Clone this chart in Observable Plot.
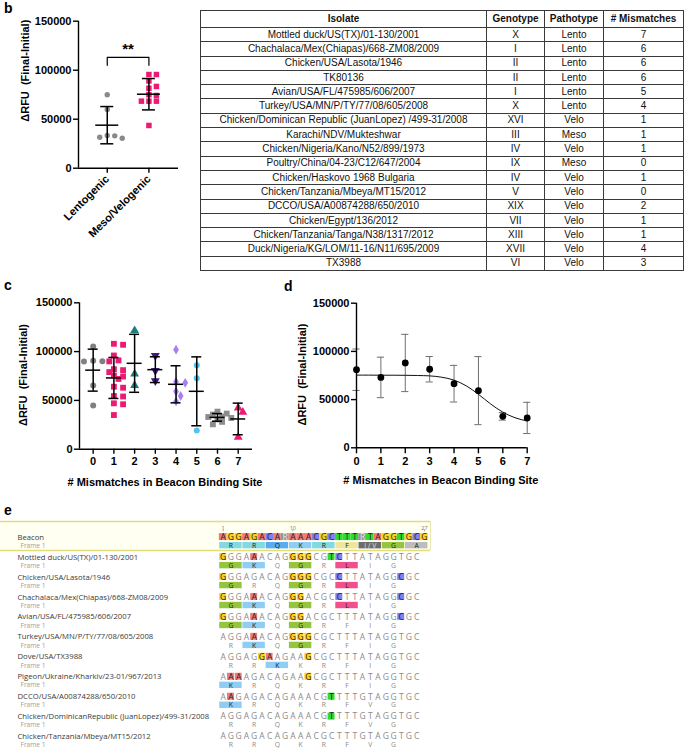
<!DOCTYPE html>
<html>
<head>
<meta charset="utf-8">
<script src="https://cdn.jsdelivr.net/npm/d3@7"></script>
<script src="https://cdn.jsdelivr.net/npm/@observablehq/plot@0.6"></script>
<style>
html,body{margin:0;padding:0;background:#fff;}
#root{position:relative;width:685px;height:750px;overflow:hidden;background:#fff;}
.lbl{position:absolute;font:bold 14px "Liberation Sans",Arial,sans-serif;line-height:16px;color:#000;}
#tbl{position:absolute;left:200px;top:10px;}
table{border-collapse:collapse;table-layout:fixed;font:10px "Liberation Sans",Arial,sans-serif;color:#111;}
td,th{border:1px solid #3a3a3a;padding:0;text-align:center;white-space:nowrap;overflow:hidden;line-height:12px;}
th{height:16px;font-weight:bold;}
td{height:13.3px;}
</style>
</head>
<body>
<div id="root"></div>
<script>
// ================= DATA =================
// Panel b (dot plot by pathotype)
const pathoGroups = ["Lentogenic", "Meso/Velogenic"];
const lentoValues = [75000, 60000, 30600, 33000, 31600, 33400];
const mesoVeloValues = [95600, 95600, 89000, 83400, 81600, 75000, 74200, 68400, 68400, 68400, 43600];
const pathoMeans = [43900, 75500];
const pathoSDs = [19000, 16000];

// Panel b (table)
const tableHeader = ["Isolate", "Genotype", "Pathotype", "# Mismatches"];
const isolates = [
  "Mottled duck/US(TX)/01-130/2001",
  "Chachalaca/Mex(Chiapas)/668-ZM08/2009",
  "Chicken/USA/Lasota/1946",
  "TK80136",
  "Avian/USA/FL/475985/606/2007",
  "Turkey/USA/MN/P/TY/77/08/605/2008",
  "Chicken/Dominican Republic (JuanLopez) /499-31/2008",
  "Karachi/NDV/Mukteshwar",
  "Chicken/Nigeria/Kano/N52/899/1973",
  "Poultry/China/04-23/C12/647/2004",
  "Chicken/Haskovo 1968 Bulgaria",
  "Chicken/Tanzania/Mbeya/MT15/2012",
  "DCCO/USA/A00874288/650/2010",
  "Chicken/Egypt/136/2012",
  "Chicken/Tanzania/Tanga/N38/1317/2012",
  "Duck/Nigeria/KG/LOM/11-16/N11/695/2009",
  "TX3988"
];
const genotypes = ["X","I","II","II","I","X","XVI","III","IV","IX","IV","V","XIX","VII","XIII","XVII","VI"];
const pathotypes = ["Lento","Lento","Lento","Lento","Lento","Lento","Velo","Meso","Velo","Meso","Velo","Velo","Velo","Velo","Velo","Velo","Velo"];
const mismatchCounts = [7,6,6,6,5,4,1,1,1,0,1,0,2,1,1,4,3];

// Panel c / d (by number of mismatches)
const mismatchGroups = [0,1,2,3,4,5,6,7];
const replicates = [
  [105200, 90600, 89900, 90000, 65300, 44800],
  [108000,107000,96000,91000,90000,82000,81000,79000,75500,74500,72000,64000,63000,54500,54000,47000,46000,35000],
  [121600, 77200, 65300],
  [96000, 80600, 70000],
  [102000, 69000, 68000, 59000, 54500, 49000],
  [86100, 72800, 19100],
  [38500, 36500, 35500, 33500, 33000, 32000, 30500, 28000, 25500],
  [42400, 37900, 12300]
];
const groupMeans = [81000, 73000, 88000, 81500, 66500, 59300, 32600, 31000];
const groupSDs   = [21500, 21000, 29700, 13200, 19000, 35300, 3900, 16200];
const groupColors = ["#808080","#ec1a73","#1c7c80","#40197a","#a97ef0","#55c2ee","#8c8c8c","#ec1a73"];
const groupSymbolNames = ["circle","square","triangle","triangleDown","diamond","circle","square","triangle"];

// Panel d fitted curve
const fitX = [0, 0.5, 1, 1.5, 2, 2.5, 3, 3.5, 4, 4.5, 5, 5.5, 6, 6.5, 7];
const fitY = [75400, 75400, 75300, 75300, 75200, 75000, 74600, 73200, 70200, 64300, 55500, 45500, 37000, 31200, 27800];

const yTicks = [0, 50000, 100000, 150000];
const xTicks = [0, 1, 2, 3, 4, 5, 6, 7];

// Panel e (alignment)
const beaconNt = "AGGAGACARAAACGCTTTRTAGGTGCG";
const beaconAA = ["R","R","Q","K","R","F","I / V","G","A"];
const seqNames = [
  "Mottled duck/US(TX)/01-130/2001",
  "Chicken/USA/Lasota/1946",
  "Chachalaca/Mex(Chiapas)/668-ZM08/2009",
  "Avian/USA/FL/475985/606/2007",
  "Turkey/USA/MN/P/TY/77/08/605/2008",
  "Dove/USA/TX3988",
  "Pigeon/Ukraine/Kharkiv/23-01/967/2013",
  "DCCO/USA/A00874288/650/2010",
  "Chicken/DominicanRepublic (JuanLopez)/499-31/2008",
  "Chicken/Tanzania/Mbeya/MT15/2012"
];
const seqNt = [
  "GGGAAACAGGGGCGTCTTATAGGTGC",
  "GGGAGACAGGGGCGCCTTATAGGCGC",
  "GGGAAACAGGGACGCCTTATAGGCGC",
  "GGGAAACAGGGACGCTTTATAGGCGC",
  "AGGAAACAGGGGCGCTTTATAGGTGC",
  "AGGAGGAAGAAGCGCTTTATAGGTGC",
  "AAAAGACAGAAGCGCTTTATAGGTGC",
  "AAGAGACAGAAACGTTTTGTAGGTGC",
  "AGGAGACAGAAACGTTTTGTAGGTGC",
  "AGGAGACAGAAACGCTTTGTAGGTGC"
];
const seqAA = ["GKQGRLIG","GRQGRLIG","GKQGRLIG","GKQGRFIG","RKQGRFIG","RRKKRFIG","KRQKRFIG","KRQKRFVG","RRQKRFVG","RRQKRFVG"];
const positionMarks = [1, 10, 27];
const ntColors = {A:"#f27a76", G:"#ffd21a", C:"#7f7ff0", T:"#2edc2e", R:"#959595"};
const aaColors = {R:"#84d8e0", Q:"#5aabef", K:"#8fcdf4", F:"#efe59c", "I / V":"#6c6c6c", G:"#95c43f", A:"#bdbdbd", L:"#f2508b"};

// ================= HELPERS =================
const root = document.getElementById("root");
function place(el, left, top) {
  el.style.position = "absolute"; el.style.left = left + "px"; el.style.top = top + "px";
  root.appendChild(el);
}
function label(txt, left, top) {
  const d = document.createElement("div"); d.className = "lbl"; d.textContent = txt;
  d.style.left = left + "px"; d.style.top = top + "px"; root.appendChild(d);
}
const triangleDown = {
  draw(context, size) {
    const y = -Math.sqrt(size / (Math.sqrt(3) * 3));
    context.moveTo(0, -y * 2);
    context.lineTo(-Math.sqrt(3) * y, y);
    context.lineTo(Math.sqrt(3) * y, y);
    context.closePath();
  }
};
const symbolOf = n => n === "triangleDown" ? triangleDown : n;
// simple beeswarm-like spreading (pixel offsets)
function dodge(values, toPx, diam, step) {
  const order = values.map((v, i) => i).sort((a, b) => values[b] - values[a]);
  const placed = []; const off = new Array(values.length).fill(0);
  for (const i of order) {
    const y = toPx(values[i]);
    for (let k = 0; k < 60; k++) {
      const o = k === 0 ? 0 : (k % 2 ? 1 : -1) * Math.ceil(k / 2) * step;
      if (placed.every(p => Math.hypot(p.x - o, p.y - y) >= diam)) { placed.push({x: o, y}); off[i] = o; break; }
    }
  }
  return off;
}
const graphStyle = {fontFamily: '"Liberation Sans", Arial, sans-serif', fontSize: "11px", fontWeight: "bold",
  background: "transparent", overflow: "visible", color: "#000"};
const yLabel = "\u0394RFU\u00a0 (Final-Initial)";
const xLabel = "# Mismatches in Beacon Binding Site";

// ================= PANEL b (dot plot) =================
{
  const W = 200, H = 250, ML = 78, MR = 22, MT = 20.7, MB = 82.3;
  const xDom = [-0.69, 1.71];
  const pxX = (W - ML - MR) / (xDom[1] - xDom[0]);
  const yPx = v => (H - MB) - v * (H - MB - MT) / 150000;
  const groups = [lentoValues, mesoVeloValues];
  const marks = [
    Plot.ruleX([xDom[0]], {stroke: "#000", strokeWidth: 1.4}),
    Plot.ruleY([0], {stroke: "#000", strokeWidth: 1.4}),
    Plot.axisY({ticks: yTicks, tickFormat: "d", tickSize: 5, tickPadding: 2, fontSize: 11, fontWeight: "bold", strokeWidth: 1.4, label: null}),
    Plot.axisX({ticks: [0, 1], tickFormat: i => pathoGroups[i], tickRotate: -45, tickSize: 5, tickPadding: 4, fontSize: 11, fontWeight: "bold", strokeWidth: 1.4, label: null})
  ];
  groups.forEach((vals, g) => {
    const off = dodge(vals, yPx, 5.6, 7.5);
    marks.push(Plot.dot(vals.map((v, i) => ({x: g + off[i] / pxX, y: v})), {
      x: "x", y: "y", r: g === 0 ? 2.7 : 3.1, symbol: g === 0 ? "circle" : "square",
      fill: g === 0 ? "#8a8a8a" : "#ec1a73", stroke: "none"}));
  });
  const stats = [0, 1].map(g => ({g, m: pathoMeans[g], s: pathoSDs[g]}));
  marks.push(
    Plot.ruleX(stats, {x: "g", y1: d => d.m - d.s, y2: d => d.m + d.s, stroke: "#000", strokeWidth: 1.5}),
    Plot.ruleY(stats, {y: "m", x1: d => d.g - 11.5 / pxX, x2: d => d.g + 11.5 / pxX, stroke: "#000", strokeWidth: 1.5}),
    Plot.ruleY(stats, {y: d => d.m + d.s, x1: d => d.g - 6.5 / pxX, x2: d => d.g + 6.5 / pxX, stroke: "#000", strokeWidth: 1.5}),
    Plot.ruleY(stats, {y: d => d.m - d.s, x1: d => d.g - 6.5 / pxX, x2: d => d.g + 6.5 / pxX, stroke: "#000", strokeWidth: 1.5}),
    Plot.line([{x: 0, y: 105000}, {x: 0, y: 113000}, {x: 1, y: 113000}, {x: 1, y: 105000}], {x: "x", y: "y", stroke: "#000", strokeWidth: 1.2}),
    Plot.text([{x: 0.5, y: 121500, t: "**"}], {x: "x", y: "y", text: "t", fontSize: 15, fontWeight: "bold", textAnchor: "middle"}),
    Plot.text([yLabel], {text: d => d, frameAnchor: "left", textAnchor: "middle", lineAnchor: "middle", rotate: -90, dx: -53, dy: -24, fontSize: 11, fontWeight: "bold"})
  );
  const svg = Plot.plot({width: W, height: H, marginLeft: ML, marginRight: MR, marginTop: MT, marginBottom: MB,
    style: graphStyle, x: {type: "linear", domain: xDom, axis: null, label: null},
    y: {type: "linear", domain: [0, 150000], axis: null, label: null}, marks});
  place(svg, 0, 0);
}

// ================= PANEL b (table) =================
{
  const wrap = document.createElement("div"); wrap.id = "tbl";
  const t = document.createElement("table");
  const widths = [286, 58, 59, 80];
  const cg = document.createElement("colgroup");
  widths.forEach(w => { const c = document.createElement("col"); c.style.width = w + "px"; cg.appendChild(c); });
  t.appendChild(cg);
  const hr = document.createElement("tr");
  tableHeader.forEach(h => { const th = document.createElement("th"); th.textContent = h; hr.appendChild(th); });
  t.appendChild(hr);
  isolates.forEach((iso, i) => {
    const tr = document.createElement("tr");
    [iso, genotypes[i], pathotypes[i], String(mismatchCounts[i])].forEach(v => {
      const td = document.createElement("td"); td.textContent = v; tr.appendChild(td);
    });
    t.appendChild(tr);
  });
  wrap.appendChild(t); root.appendChild(wrap);
}

// ================= PANEL c =================
{
  const W = 260, H = 230, ML = 79, MR = 8, MT = 22.3, MB = 61.3;
  const xDom = [-0.66, 7.69];
  const pxX = (W - ML - MR) / (xDom[1] - xDom[0]);
  const yPx = v => (H - MB) - v * (H - MB - MT) / 150000;
  const marks = [
    Plot.ruleX([xDom[0]], {stroke: "#000", strokeWidth: 1.4}),
    Plot.ruleY([0], {stroke: "#000", strokeWidth: 1.4}),
    Plot.axisY({ticks: yTicks, tickFormat: "d", tickSize: 5, tickPadding: 2, fontSize: 11, fontWeight: "bold", strokeWidth: 1.4, label: null}),
    Plot.axisX({ticks: xTicks, tickFormat: "d", tickSize: 5, tickPadding: 3, fontSize: 11, fontWeight: "bold", strokeWidth: 1.4, label: null})
  ];
  mismatchGroups.forEach(g => {
    const vals = replicates[g];
    const off = dodge(vals, yPx, 5.2, 4.6);
    const sym = groupSymbolNames[g];
    marks.push(Plot.dot(vals.map((v, i) => ({x: g + off[i] / pxX, y: v})), {
      x: "x", y: "y", symbol: symbolOf(sym),
      r: sym === "circle" ? 3 : sym === "square" ? 3.3 : sym === "diamond" ? 3 : 3.3,
      fill: groupColors[g], stroke: "none"}));
  });
  const stats = mismatchGroups.map(g => ({g, m: groupMeans[g], s: groupSDs[g]}));
  marks.push(
    Plot.ruleX(stats, {x: "g", y1: d => d.m - d.s, y2: d => d.m + d.s, stroke: "#000", strokeWidth: 1.5}),
    Plot.ruleY(stats, {y: "m", x1: d => d.g - 7.5 / pxX, x2: d => d.g + 7.5 / pxX, stroke: "#000", strokeWidth: 1.5}),
    Plot.ruleY(stats, {y: d => d.m + d.s, x1: d => d.g - 5 / pxX, x2: d => d.g + 5 / pxX, stroke: "#000", strokeWidth: 1.5}),
    Plot.ruleY(stats, {y: d => d.m - d.s, x1: d => d.g - 5 / pxX, x2: d => d.g + 5 / pxX, stroke: "#000", strokeWidth: 1.5}),
    Plot.text([yLabel], {text: d => d, frameAnchor: "left", textAnchor: "middle", lineAnchor: "middle", rotate: -90, dx: -56, dy: -1, fontSize: 11, fontWeight: "bold"}),
    Plot.text([xLabel], {text: d => d, frameAnchor: "bottom", textAnchor: "middle", lineAnchor: "middle", dy: 33, dx: -1, fontSize: 11, fontWeight: "bold"})
  );
  const svg = Plot.plot({width: W, height: H, marginLeft: ML, marginRight: MR, marginTop: MT, marginBottom: MB,
    style: graphStyle, x: {type: "linear", domain: xDom, axis: null, label: null},
    y: {type: "linear", domain: [0, 150000], axis: null, label: null}, marks});
  place(svg, 0, 280);
}

// ================= PANEL d =================
{
  const W = 290, H = 230, ML = 96, MR = 23.3, MT = 22.7, MB = 62.7;
  const xDom = [0, 7];
  const pxX = (W - ML - MR) / (xDom[1] - xDom[0]);
  const stats = mismatchGroups.map(g => ({g, m: groupMeans[g], s: groupSDs[g]}));
  const curve = fitX.map((x, i) => ({x, y: fitY[i]}));
  const marks = [
    Plot.ruleX(stats, {x: "g", y1: d => d.m - d.s, y2: d => d.m + d.s, stroke: "#6f6f6f", strokeWidth: 1}),
    Plot.ruleY(stats, {y: d => d.m + d.s, x1: d => d.g - 3.6 / pxX, x2: d => d.g + 3.6 / pxX, stroke: "#6f6f6f", strokeWidth: 1}),
    Plot.ruleY(stats, {y: d => d.m - d.s, x1: d => d.g - 3.6 / pxX, x2: d => d.g + 3.6 / pxX, stroke: "#6f6f6f", strokeWidth: 1}),
    Plot.ruleX([xDom[0]], {stroke: "#000", strokeWidth: 1.4}),
    Plot.ruleY([0], {stroke: "#000", strokeWidth: 1.4}),
    Plot.axisY({ticks: yTicks, tickFormat: "d", tickSize: 5, tickPadding: 2, fontSize: 11, fontWeight: "bold", strokeWidth: 1.4, label: null}),
    Plot.axisX({ticks: xTicks, tickFormat: "d", tickSize: 6, tickPadding: 3.5, fontSize: 11, fontWeight: "bold", strokeWidth: 1.4, label: null}),
    Plot.line(curve, {x: "x", y: "y", curve: "monotone-x", stroke: "#111", strokeWidth: 1}),
    Plot.dot(stats, {x: "g", y: "m", r: 3.4, fill: "#000", stroke: "none"}),
    Plot.text([yLabel], {text: d => d, frameAnchor: "left", textAnchor: "middle", lineAnchor: "middle", rotate: -90, dx: -54, dy: -1, fontSize: 11, fontWeight: "bold"}),
    Plot.text([xLabel], {text: d => d, frameAnchor: "bottom", textAnchor: "middle", lineAnchor: "middle", dy: 32.7, dx: -1, fontSize: 11, fontWeight: "bold"})
  ];
  const svg = Plot.plot({width: W, height: H, marginLeft: ML, marginRight: MR, marginTop: MT, marginBottom: MB,
    style: graphStyle, x: {type: "linear", domain: xDom, axis: null, label: null},
    y: {type: "linear", domain: [0, 150000], axis: null, label: null}, marks});
  place(svg, 260, 280);
}

// ================= PANEL e (alignment) =================
{
  const W = 685, H = 238, top = 512;
  const colPx = 7.74, col1Px = 222.7, rowPx = 19.95, row0Px = 536.7 - top;
  const xDom = [1 - col1Px / colPx, 1 + (W - col1Px) / colPx];
  const yDom = [-row0Px / rowPx, (H - row0Px) / rowPx];
  const AA_DY = 0.425;
  const ntMatch = (b, n) => b === n || (b === "R" && (n === "A" || n === "G"));
  const aaMatch = (b, a) => b === a || (b === "I / V" && (a === "I" || a === "V"));
  const ntCells = [];
  beaconNt.split("").forEach((n, i) => ntCells.push({row: 0, col: i + 1, nt: n, hl: true, beacon: true}));
  seqNt.forEach((s, r) => s.split("").forEach((n, i) => ntCells.push({row: r + 1, col: i + 1, nt: n, hl: !ntMatch(beaconNt[i], n), beacon: false})));
  const aaCells = [];
  beaconAA.forEach((a, k) => aaCells.push({row: 0, k, aa: a, hl: true, beacon: true}));
  seqAA.forEach((s, r) => s.split("").forEach((a, k) => aaCells.push({row: r + 1, k, aa: a, hl: !aaMatch(beaconAA[k], a), beacon: false})));
  const rowsInfo = [{row: 0, name: "Beacon"}].concat(seqNames.map((n, i) => ({row: i + 1, name: n})));
  const bandTop = -0.79, bandBot = 0.67, bandRight = 27.78;
  const eStyle = {fontFamily: '"Open Sans", "Noto Sans", sans-serif', fontSize: "8px", background: "transparent", overflow: "visible"};
  const marks = [
    Plot.rect([0], {x1: () => xDom[0], x2: () => bandRight, y1: () => bandTop, y2: () => bandBot, fill: "#fffff2"}),
    Plot.ruleY([bandTop, bandBot], {x1: () => xDom[0], x2: () => bandRight, stroke: "#e2dc7a", strokeWidth: 1.5}),
    Plot.ruleX([bandRight], {y1: bandTop, y2: bandBot, stroke: "#ece8a8", strokeWidth: 1}),
    Plot.rect(ntCells.filter(d => d.hl), {x1: d => d.col - (d.beacon ? 0.5 : 0.45), x2: d => d.col + (d.beacon ? 0.5 : 0.45),
      y1: d => d.row - 0.18, y2: d => d.row + 0.17, fill: d => ntColors[d.nt]}),
    Plot.text(ntCells, {x: "col", y: "row", text: "nt", fontSize: 8.5,
      fill: d => d.hl ? (d.nt === "R" ? "#e8e8e8" : "#222") : "#8a8a8a"}),
    Plot.rect(aaCells.filter(d => d.hl), {x1: d => 3 * d.k + 1 - 0.45, x2: d => 3 * d.k + 3 + 0.45,
      y1: d => d.row + AA_DY - 0.16, y2: d => d.row + AA_DY + 0.16, fill: d => aaColors[d.aa]}),
    Plot.text(aaCells, {x: d => 3 * d.k + 2, y: d => d.row + AA_DY, text: "aa", fontSize: 6.8,
      fill: d => d.hl ? (d.aa === "I / V" ? "#e0e0e0" : "#222") : "#8a8a8a"}),
    Plot.text(rowsInfo, {y: "row", text: "name", frameAnchor: "left", textAnchor: "start", lineAnchor: "middle", dx: 17, fontSize: 7.7, fill: "#3a3a3a"}),
    Plot.text(rowsInfo, {y: d => d.row + AA_DY, text: () => "Frame 1", frameAnchor: "left", textAnchor: "start", lineAnchor: "middle", dx: 20, fontSize: 6.6, fill: "#a0a0a0"}),
    Plot.text(positionMarks, {x: d => d, y: () => -0.46, text: d => String(d), fontSize: 5.5, fill: "#777"}),
    Plot.ruleX(positionMarks, {x: d => d, y1: -0.37, y2: -0.27, stroke: "#888", strokeWidth: 0.7})
  ];
  const svg = Plot.plot({width: W, height: H, marginLeft: 0, marginRight: 0, marginTop: 0, marginBottom: 0,
    style: eStyle, x: {type: "linear", domain: xDom, range: [0, W], axis: null},
    y: {type: "linear", domain: yDom, range: [0, H], axis: null}, marks});
  place(svg, 0, top);
}

// panel letters
label("b", 4, 0);
label("c", 4, 277);
label("d", 284, 278);
label("e", 4, 502);
</script>
</body>
</html>
